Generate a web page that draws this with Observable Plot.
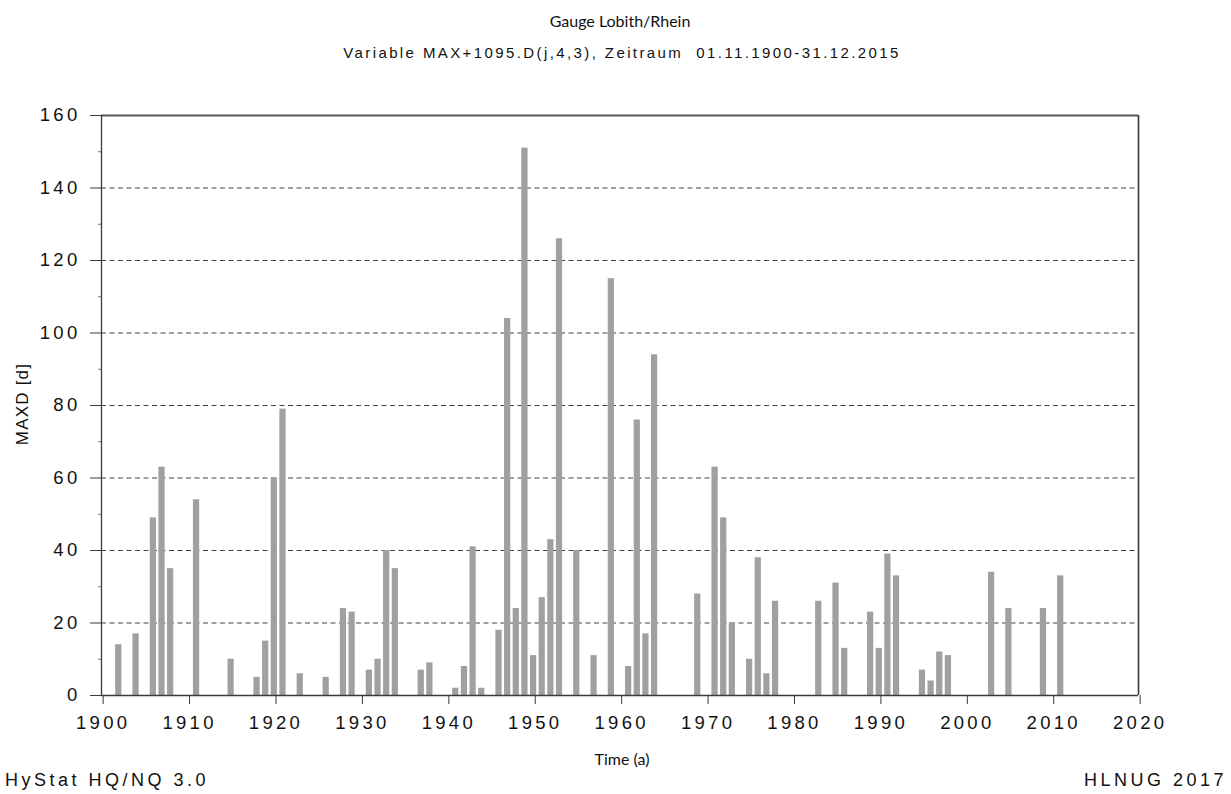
<!DOCTYPE html>
<html>
<head>
<meta charset="utf-8">
<script src="https://cdn.jsdelivr.net/npm/d3@7"></script>
<script src="https://cdn.jsdelivr.net/npm/@observablehq/plot@0.6"></script>
<style>
  html, body { margin: 0; padding: 0; background: #fff; }
  #wrap { position: relative; width: 1231px; height: 794px; overflow: hidden; }
  #chart { position: absolute; left: 0; top: 0; z-index: 0; }
  .lbl { position: absolute; white-space: nowrap; color: #111; line-height: 1; z-index: 1; }
  .cal { font-family: Lato, "Open Sans", sans-serif; font-size: 16px; }
  .ari { font-family: "Liberation Sans", Arial, sans-serif; }
</style>
</head>
<body>
<div id="wrap">
  <div id="chart"></div>
  <div class="lbl cal" style="left:620px; top:13px; transform:translateX(-50%);">Gauge Lobith/Rhein</div>
  <div class="lbl ari" style="left:622px; top:45px; transform:translateX(-50%); font-size:15px; letter-spacing:2.4px;">Variable MAX+1095.D(j,4,3), Zeitraum&nbsp;&nbsp;01.11.1900-31.12.2015</div>
  <div class="lbl ari" style="left:22px; top:404px; transform:translate(-50%,-50%) rotate(-90deg); font-size:17px; letter-spacing:1.2px;">MAXD [d]</div>
  <div class="lbl cal" style="left:622px; top:751px; transform:translateX(-50%);">Time (a)</div>
  <div class="lbl ari" style="left:5px; top:771px; font-size:18px; letter-spacing:3.5px;">HyStat HQ/NQ 3.0</div>
  <div class="lbl ari" style="right:4px; top:771px; font-size:18px; letter-spacing:3.5px;">HLNUG 2017</div>
</div>
<script>
// Annual maximum duration (days) per hydrological year
const years = [1902, 1904, 1906, 1907, 1908, 1911, 1915, 1918, 1919, 1920, 1921, 1923, 1926, 1928, 1929,
  1931, 1932, 1933, 1934, 1937, 1938, 1941, 1942, 1943, 1944, 1946, 1947, 1948, 1949, 1950,
  1951, 1952, 1953, 1955, 1957, 1959, 1961, 1962, 1963, 1964, 1969, 1971, 1972, 1973, 1975,
  1976, 1977, 1978, 1983, 1985, 1986, 1989, 1990, 1991, 1992, 1995, 1996, 1997, 1998, 2003,
  2005, 2009, 2011];
const maxd = [14, 17, 49, 63, 35, 54, 10, 5, 15, 60, 79, 6, 5, 24, 23,
  7, 10, 40, 35, 7, 9, 2, 8, 41, 2, 18, 104, 24, 151, 11,
  27, 43, 126, 40, 11, 115, 8, 76, 17, 94, 28, 63, 49, 20, 10,
  38, 6, 26, 26, 31, 13, 23, 13, 39, 33, 7, 4, 12, 11, 34,
  24, 24, 33];

const xTicks = [1900, 1910, 1920, 1930, 1940, 1950, 1960, 1970, 1980, 1990, 2000, 2010, 2020];
const yTicks = [0, 20, 40, 60, 80, 100, 120, 140, 160];
const yMinor = [10, 30, 50, 70, 90, 110, 130, 150];
const gridLevels = [20, 40, 60, 80, 100, 120, 140];

const rows = years.map((year, i) => ({year, value: maxd[i]}));
const barHalf = 0.36;
const ink = "#3a3a3a";
const spacing = 3.3;

const chart = Plot.plot({
  width: 1231,
  height: 794,
  marginLeft: 101,
  marginRight: 93,
  marginTop: 115,
  marginBottom: 99,
  x: {domain: [1900, 2020]},
  y: {domain: [0, 160]},
  style: {
    fontFamily: "'Liberation Sans', Arial, sans-serif",
    fontSize: "18.5px",
    letterSpacing: spacing + "px",
    color: "#111",
    background: "transparent"
  },
  marks: [
    Plot.ruleY(gridLevels, {stroke: "#444", strokeWidth: 1.2, strokeDasharray: "5,3.5"}),
    Plot.rect(rows, {
      x1: d => d.year - barHalf,
      x2: d => d.year + barHalf,
      y1: 0,
      y2: "value",
      fill: "#a0a0a0"
    }),
    Plot.ruleY([0], {stroke: ink, strokeWidth: 1.3}),
    Plot.ruleY([160], {stroke: "#555", strokeWidth: 2}),
    Plot.ruleX([1900], {stroke: ink, strokeWidth: 1.3}),
    Plot.ruleX([2020], {stroke: ink, strokeWidth: 1.6}),
    Plot.axisX({ticks: xTicks, tickFormat: d => String(d), tickSize: 9, tickPadding: 11, stroke: ink,
      label: null, dx: spacing / 2}),
    Plot.axisY({ticks: yTicks, tickFormat: d => String(d), tickSize: 11, tickPadding: 10, stroke: ink,
      label: null}),
    Plot.axisY({ticks: yMinor, tickSize: 3, text: null, stroke: "#777", label: null})
  ]
});
document.getElementById("chart").appendChild(chart);
</script>
</body>
</html>
